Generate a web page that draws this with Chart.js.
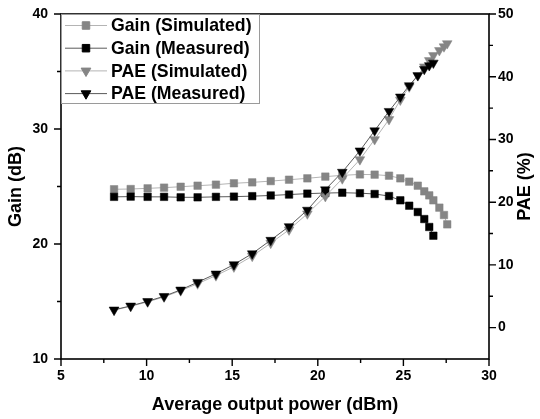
<!DOCTYPE html>
<html>
<head>
<meta charset="utf-8">
<script src="https://cdn.jsdelivr.net/npm/chart.js@4/dist/chart.umd.min.js"></script>
<style>
html,body{margin:0;padding:0;background:#fff;}
#wrap{width:540px;height:419px;position:relative;}
</style>
</head>
<body>
<div id="wrap"><canvas id="c" width="540" height="419"></canvas></div>
<script>
// ---- data ----
const powerSim = [8.1, 9.07, 10.06, 11.02, 11.99, 12.98, 14.05, 15.1, 16.17, 17.25, 18.32, 19.39, 20.44, 21.43, 22.46, 23.32, 24.16, 24.82, 25.34, 25.84, 26.22, 26.51, 26.75, 27.1, 27.37, 27.56];
const gainSim  = [24.76, 24.78, 24.84, 24.9, 24.98, 25.07, 25.16, 25.28, 25.36, 25.47, 25.59, 25.71, 25.86, 25.97, 26.05, 26.03, 25.94, 25.71, 25.42, 25.07, 24.58, 24.23, 23.8, 23.16, 22.52, 21.71];
const paeSim   = [2.8, 3.4, 4.1, 4.9, 5.9, 7.0, 8.3, 9.7, 11.4, 13.47, 15.6, 18.16, 20.93, 23.75, 26.8, 30.0, 33.2, 36.3, 38.4, 40.2, 41.6, 42.6, 43.4, 44.2, 44.8, 45.3];

const powerMeas = [8.1, 9.07, 10.06, 11.02, 11.99, 12.98, 14.05, 15.1, 16.17, 17.25, 18.32, 19.39, 20.44, 21.43, 22.46, 23.32, 24.16, 24.82, 25.34, 25.84, 26.22, 26.51, 26.75];
const gainMeas  = [24.1, 24.12, 24.1, 24.1, 24.06, 24.06, 24.1, 24.12, 24.16, 24.22, 24.3, 24.38, 24.43, 24.46, 24.42, 24.35, 24.17, 23.8, 23.33, 22.78, 22.17, 21.48, 20.72];
const paeMeas   = [2.83, 3.47, 4.2, 5.0, 6.02, 7.24, 8.58, 10.06, 11.8, 13.95, 16.13, 18.75, 22.0, 24.8, 28.2, 31.4, 34.5, 36.8, 38.6, 40.2, 41.2, 41.8, 42.2];

const seriesLabels = ['Gain (Simulated)', 'Gain (Measured)', 'PAE (Simulated)', 'PAE (Measured)'];
const xTitle = 'Average output power (dBm)';
const yLeftTitle = 'Gain (dB)';
const yRightTitle = 'PAE (%)';

const FONT = '"Liberation Sans", Arial, sans-serif';
const zip = (xs, ys) => xs.map((x, i) => ({x: x, y: ys[i]}));

const GREY = '#858585';
const BLACK = '#000000';
const LINE_SIM = '#b4b4b4';
const LINE_MEAS = '#5a5a5a';

const datasets = [
  {label: seriesLabels[0], data: zip(powerSim, gainSim), yAxisID: 'y', order: 4,
   borderColor: LINE_SIM, borderWidth: 1, pointStyle: 'rect', pointRadius: 5.3,
   pointBackgroundColor: GREY, pointBorderColor: GREY, pointBorderWidth: 0.5},
  {label: seriesLabels[1], data: zip(powerMeas, gainMeas), yAxisID: 'y', order: 3,
   borderColor: LINE_MEAS, borderWidth: 1, pointStyle: 'rect', pointRadius: 5.3,
   pointBackgroundColor: BLACK, pointBorderColor: BLACK, pointBorderWidth: 0.5},
  {label: seriesLabels[2], data: zip(powerSim, paeSim), yAxisID: 'y1', order: 2,
   borderColor: LINE_SIM, borderWidth: 1, pointStyle: 'triangle', pointRotation: 180, pointRadius: 5.6,
   pointBackgroundColor: GREY, pointBorderColor: GREY, pointBorderWidth: 0.5},
  {label: seriesLabels[3], data: zip(powerMeas, paeMeas), yAxisID: 'y1', order: 1,
   borderColor: LINE_MEAS, borderWidth: 1, pointStyle: 'triangle', pointRotation: 180, pointRadius: 5.6,
   pointBackgroundColor: BLACK, pointBorderColor: BLACK, pointBorderWidth: 0.5}
];
datasets.forEach(d => { d.showLine = true; d.tension = 0; d.fill = false; d.pointHoverRadius = d.pointRadius; });

const tickFont = {family: FONT, size: 14, weight: 'bold'};

// frame, major/minor ticks, axis titles and legend box
const decor = {
  id: 'decor',
  afterDatasetsDraw(chart) {
    const ctx = chart.ctx, a = chart.chartArea;
    const sx = chart.scales.x, sl = chart.scales.y, sr = chart.scales.y1;
    ctx.save();
    ctx.strokeStyle = '#000';
    ctx.lineWidth = 1.6;
    ctx.strokeRect(a.left, a.top, a.right - a.left, a.bottom - a.top);
    ctx.lineWidth = 1.4;
    const MAJ = 7, MIN = 4;
    ctx.beginPath();
    for (let v = 5; v <= 30.001; v += 2.5) {
      const p = sx.getPixelForValue(v);
      const len = (Math.abs(v / 5 - Math.round(v / 5)) < 1e-6) ? MAJ : MIN;
      ctx.moveTo(p, a.bottom); ctx.lineTo(p, a.bottom + len);
    }
    for (let v = 10; v <= 40.001; v += 5) {
      const p = sl.getPixelForValue(v);
      const len = (v % 10 === 0) ? MAJ : MIN;
      ctx.moveTo(a.left, p); ctx.lineTo(a.left - len, p);
    }
    for (let v = 0; v <= 50.001; v += 5) {
      const p = sr.getPixelForValue(v);
      const len = (v % 10 === 0) ? MAJ : MIN;
      ctx.moveTo(a.right, p); ctx.lineTo(a.right + len, p);
    }
    ctx.stroke();

    // axis titles
    ctx.fillStyle = '#000';
    ctx.textAlign = 'center';
    ctx.textBaseline = 'middle';
    ctx.font = 'bold 18px ' + FONT;
    ctx.fillText(xTitle, (a.left + a.right) / 2, 405);
    const midY = (a.top + a.bottom) / 2;
    ctx.save(); ctx.translate(16, midY); ctx.rotate(-Math.PI / 2);
    ctx.fillText(yLeftTitle, 0, 0); ctx.restore();
    ctx.save(); ctx.translate(525, midY); ctx.rotate(-Math.PI / 2);
    ctx.fillText(yRightTitle, 0, 0); ctx.restore();

    // legend
    const bx = a.left, by = a.top, bw = 198, bh = 89;
    ctx.fillStyle = '#fff';
    ctx.fillRect(bx + 1, by + 1, bw - 1, bh - 1);
    ctx.strokeStyle = '#9a9a9a';
    ctx.lineWidth = 1;
    ctx.strokeRect(bx + 0.5, by + 0.5, bw, bh);
    ctx.font = 'bold 17.7px ' + FONT;
    ctx.textBaseline = 'middle';
    ctx.textAlign = 'left';
    chart.data.datasets.forEach((d, i) => {
      const y = by + 11.5 + i * 22.7;
      ctx.strokeStyle = d.borderColor;
      ctx.lineWidth = 1;
      ctx.beginPath(); ctx.moveTo(bx + 4, y); ctx.lineTo(bx + 46, y); ctx.stroke();
      ctx.fillStyle = d.pointBackgroundColor;
      ctx.strokeStyle = d.pointBorderColor;
      Chart.helpers.drawPoint(ctx, {pointStyle: d.pointStyle, rotation: d.pointRotation || 0,
        radius: d.pointRadius, borderWidth: d.pointBorderWidth}, bx + 25, y);
      ctx.fillStyle = '#000';
      ctx.fillText(d.label, bx + 50, y + 1);
    });
    ctx.restore();
  }
};

const vFit = w => s => { s.width = w; s.paddingTop = 0; s.paddingBottom = 0; };

new Chart(document.getElementById('c'), {
  type: 'line',
  data: {datasets: datasets},
  options: {
    responsive: false,
    animation: false,
    events: [],
    layout: {padding: {top: 14, left: 0, right: 0, bottom: 0}},
    plugins: {legend: {display: false}, tooltip: {enabled: false}},
    scales: {
      x: {
        type: 'linear', min: 5, max: 30,
        grid: {display: false, drawTicks: false},
        border: {display: false},
        ticks: {stepSize: 5, font: tickFont, color: '#000', padding: 9, maxRotation: 0},
        afterFit: s => { s.height = 60; s.paddingLeft = 0; s.paddingRight = 0; }
      },
      y: {
        type: 'linear', position: 'left', min: 10, max: 40,
        grid: {display: false, drawTicks: false},
        border: {display: false},
        ticks: {stepSize: 10, font: tickFont, color: '#000', padding: 13},
        afterFit: vFit(61)
      },
      y1: {
        type: 'linear', position: 'right', min: -5, max: 50,
        grid: {display: false, drawTicks: false},
        border: {display: false},
        ticks: {stepSize: 10, font: tickFont, color: '#000', padding: 9},
        afterBuildTicks: s => { s.ticks = s.ticks.filter(t => t.value >= 0 && t.value % 10 === 0); },
        afterFit: vFit(51)
      }
    }
  },
  plugins: [decor]
});
</script>
</body>
</html>
